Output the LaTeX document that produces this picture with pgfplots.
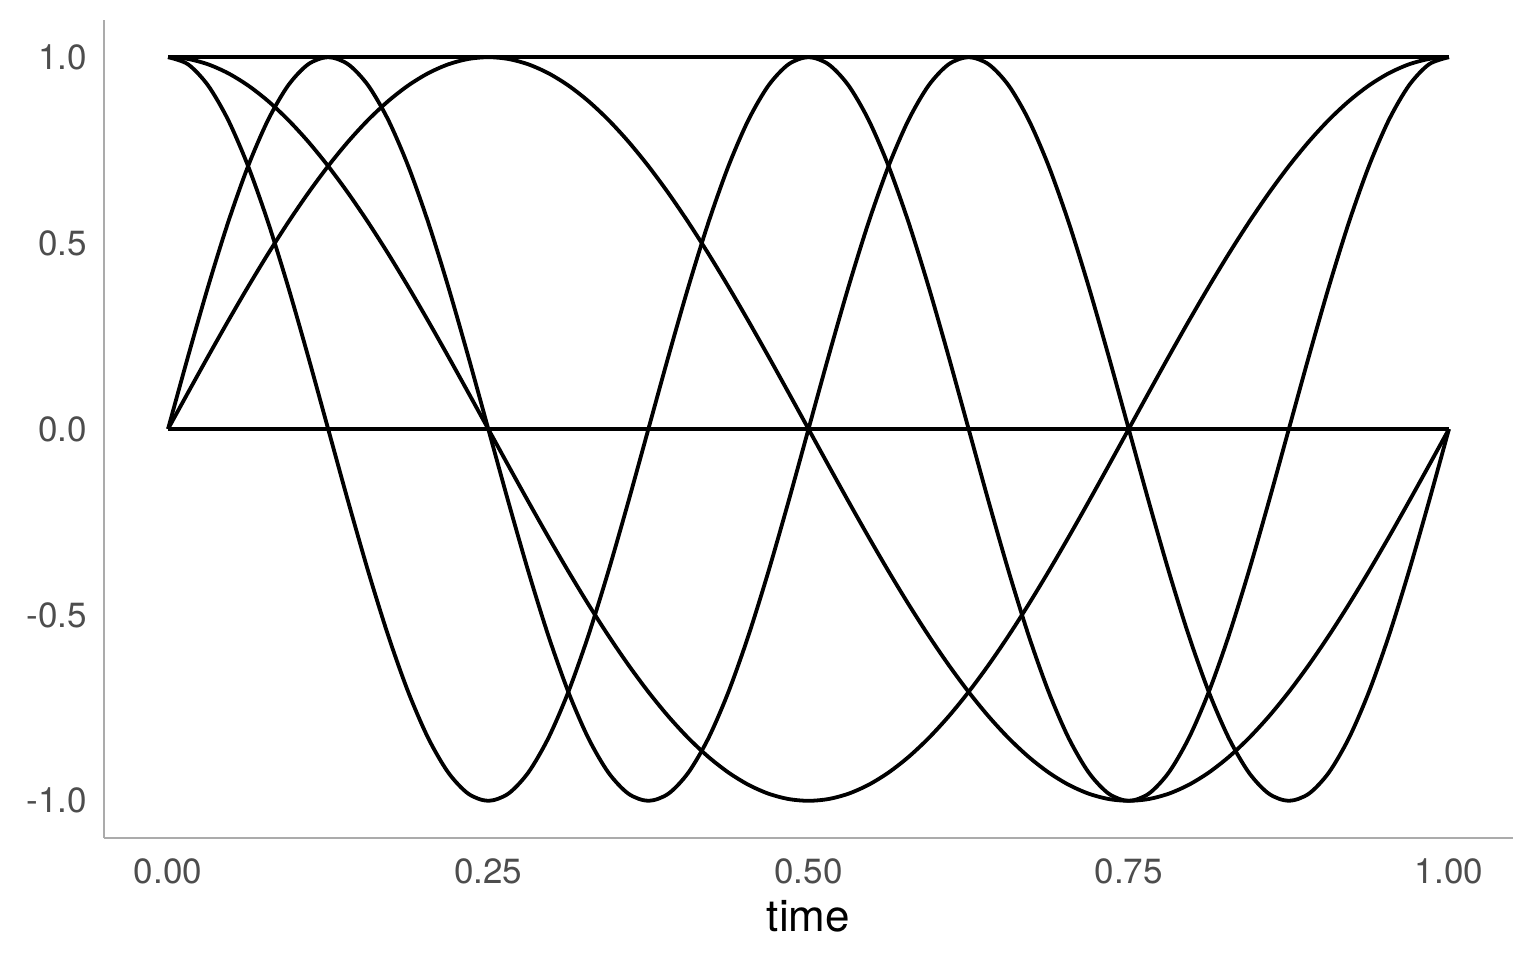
\documentclass[border=0pt]{standalone}
\usepackage{pgfplots}
\usepackage{pgfplotstable}
\pgfplotsset{compat=1.18}
\usepackage{fontspec}
\setmainfont{TeX Gyre Heros}
\definecolor{axgray}{HTML}{ABABAB}
\definecolor{tickgray}{HTML}{4D4D4D}
\pgfplotstableread{
t c1 s1 c2 s2
0 1 0 1 0
0.015625 .99518 .09802 .98079 .19509
0.03125 .98079 .19509 .92388 .38268
0.046875 .95694 .29028 .83147 .55557
0.0625 .92388 .38268 .70711 .70711
0.078125 .88192 .47140 .55557 .83147
0.09375 .83147 .55557 .38268 .92388
0.109375 .77301 .63439 .19509 .98079
0.125 .70711 .70711 0 1
0.140625 .63439 .77301 -.19509 .98079
0.15625 .55557 .83147 -.38268 .92388
0.171875 .47140 .88192 -.55557 .83147
0.1875 .38268 .92388 -.70711 .70711
0.203125 .29028 .95694 -.83147 .55557
0.21875 .19509 .98079 -.92388 .38268
0.234375 .09802 .99518 -.98079 .19509
0.25 0 1 -1 0
0.265625 -.09802 .99518 -.98079 -.19509
0.28125 -.19509 .98079 -.92388 -.38268
0.296875 -.29028 .95694 -.83147 -.55557
0.3125 -.38268 .92388 -.70711 -.70711
0.328125 -.47140 .88192 -.55557 -.83147
0.34375 -.55557 .83147 -.38268 -.92388
0.359375 -.63439 .77301 -.19509 -.98079
0.375 -.70711 .70711 0 -1
0.390625 -.77301 .63439 .19509 -.98079
0.40625 -.83147 .55557 .38268 -.92388
0.421875 -.88192 .47140 .55557 -.83147
0.4375 -.92388 .38268 .70711 -.70711
0.453125 -.95694 .29028 .83147 -.55557
0.46875 -.98079 .19509 .92388 -.38268
0.484375 -.99518 .09802 .98079 -.19509
0.5 -1 0 1 0
0.515625 -.99518 -.09802 .98079 .19509
0.53125 -.98079 -.19509 .92388 .38268
0.546875 -.95694 -.29028 .83147 .55557
0.5625 -.92388 -.38268 .70711 .70711
0.578125 -.88192 -.47140 .55557 .83147
0.59375 -.83147 -.55557 .38268 .92388
0.609375 -.77301 -.63439 .19509 .98079
0.625 -.70711 -.70711 0 1
0.640625 -.63439 -.77301 -.19509 .98079
0.65625 -.55557 -.83147 -.38268 .92388
0.671875 -.47140 -.88192 -.55557 .83147
0.6875 -.38268 -.92388 -.70711 .70711
0.703125 -.29028 -.95694 -.83147 .55557
0.71875 -.19509 -.98079 -.92388 .38268
0.734375 -.09802 -.99518 -.98079 .19509
0.75 0 -1 -1 0
0.765625 .09802 -.99518 -.98079 -.19509
0.78125 .19509 -.98079 -.92388 -.38268
0.796875 .29028 -.95694 -.83147 -.55557
0.8125 .38268 -.92388 -.70711 -.70711
0.828125 .47140 -.88192 -.55557 -.83147
0.84375 .55557 -.83147 -.38268 -.92388
0.859375 .63439 -.77301 -.19509 -.98079
0.875 .70711 -.70711 0 -1
0.890625 .77301 -.63439 .19509 -.98079
0.90625 .83147 -.55557 .38268 -.92388
0.921875 .88192 -.47140 .55557 -.83147
0.9375 .92388 -.38268 .70711 -.70711
0.953125 .95694 -.29028 .83147 -.55557
0.96875 .98079 -.19509 .92388 -.38268
0.984375 .99518 -.09802 .98079 -.19509
1 1 0 1 0
}\basis
\begin{document}
\begin{tikzpicture}
\path (-52pt,-61pt) rectangle (716pt,419pt);
\begin{axis}[
  at={(0,0)}, anchor=south west,
  scale only axis, width=704.5pt, height=409pt,
  xmin=-0.05, xmax=1.05, ymin=-1.1, ymax=1.1,
  axis x line=bottom, axis y line=left,
  axis line style={-, draw=axgray, line width=0.7pt},
  xtick={0,0.25,0.5,0.75,1}, xticklabels={0.00,0.25,0.50,0.75,1.00},
  ytick={-1,-0.5,0,0.5,1}, yticklabels={-1.0,-0.5,0.0,0.5,1.0},
  major tick length=0pt,
  tick label style={font=\fontsize{17.5}{20}\selectfont, text=tickgray},
  xticklabel style={yshift=-7pt},
  yticklabel style={xshift=-5pt},
  xlabel={time}, xlabel style={font=\fontsize{22}{26}\selectfont, yshift=-1pt},
  clip=false,
]
\addplot[black, line width=1.9pt] coordinates {(0,1) (1,1)};
\addplot[black, line width=1.9pt] coordinates {(0,0) (1,0)};
\addplot[black, line width=1.9pt, smooth] table[x=t,y=c1] {\basis};
\addplot[black, line width=1.9pt, smooth] table[x=t,y=s1] {\basis};
\addplot[black, line width=1.9pt, smooth] table[x=t,y=c2] {\basis};
\addplot[black, line width=1.9pt, smooth] table[x=t,y=s2] {\basis};
\end{axis}
\end{tikzpicture}
\end{document}
